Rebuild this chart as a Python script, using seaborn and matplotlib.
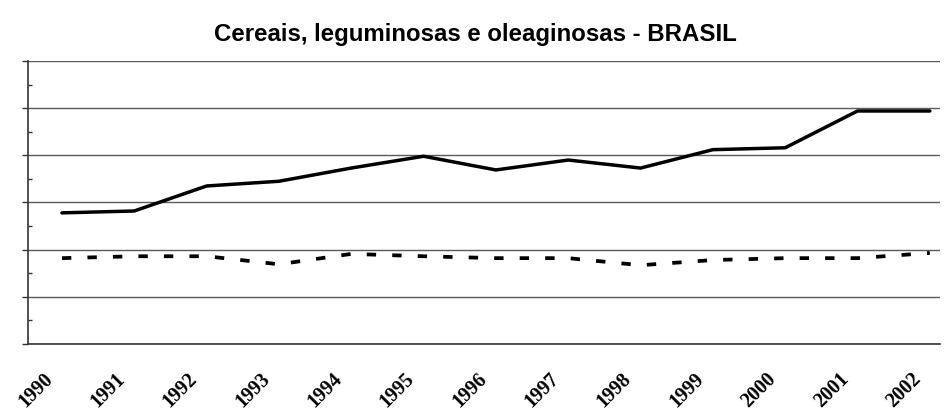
import pandas as pd
import matplotlib.pyplot as plt
import matplotlib.ticker as mticker
import matplotlib.transforms as mtransforms
import seaborn as sns

# ---------------------------------------------------------
# Data (arbitrary units)
# ---------------------------------------------------------
years = list(range(1990, 2003))
producao = [27.8, 28.2, 33.5, 34.5, 37.3, 39.8, 36.9, 39.0, 37.3, 41.2, 41.6, 49.4, 49.4]
area = [18.2, 18.6, 18.6, 16.9, 19.1, 18.6, 18.2, 18.2, 16.7, 17.8, 18.2, 18.2, 19.3]

sns.set_style("white")
plt.rcParams["font.family"] = ["Liberation Sans", "DejaVu Sans"]

fig = plt.figure(figsize=(9.51, 4.16), dpi=100)
ax = fig.add_axes([0.0294, 0.1731, 0.9590, 0.6803])

sns.lineplot(x=years, y=producao, ax=ax, color="black", linewidth=2.5,
             solid_capstyle="round")
sns.lineplot(x=years, y=area, ax=ax, color="black", linewidth=2.7,
             dashes=False)
ax.lines[-1].set_dashes((2.5, 4.3))
ax.lines[-1].set_dash_capstyle("butt")

ax.set_xlim(1990 - 0.47, 2002 + 0.14)
ax.set_ylim(0, 60)

ax.yaxis.set_major_locator(mticker.MultipleLocator(10))
ax.yaxis.set_minor_locator(mticker.MultipleLocator(5))
ax.yaxis.grid(True, which="major", color="#5a5a5a", linewidth=1.0)
ax.set_axisbelow(True)
ax.set_yticklabels([])
ax.tick_params(axis="y", which="major", direction="out", length=4, width=1,
               color="#333333", left=True)
ax.tick_params(axis="y", which="minor", direction="in", length=3, width=1,
               color="#333333", left=True)

# rotated year labels, anchored left-below each point
ax.set_xticks(years)
ax.set_xticklabels([str(y) for y in years], rotation=45, ha="right",
                   va="center", rotation_mode="anchor", fontsize=14.5,
                   fontweight="bold", color="black",
                   family=["Liberation Serif", "DejaVu Serif"])
ax.tick_params(axis="x", length=0, pad=23)
shift = mtransforms.ScaledTranslation(-12 / 100, 0, fig.dpi_scale_trans)
for lbl in ax.get_xticklabels():
    lbl.set_transform(lbl.get_transform() + shift)

for side in ["top", "right"]:
    ax.spines[side].set_visible(False)
for side in ["left", "bottom"]:
    ax.spines[side].set_color("#333333")
    ax.spines[side].set_linewidth(1.2)

fig.suptitle("Cereais, leguminosas e oleaginosas - BRASIL", x=0.5, y=0.916,
             va="center", fontsize=17.3, fontweight="bold", color="black")

fig.savefig("out.png", dpi=100)
